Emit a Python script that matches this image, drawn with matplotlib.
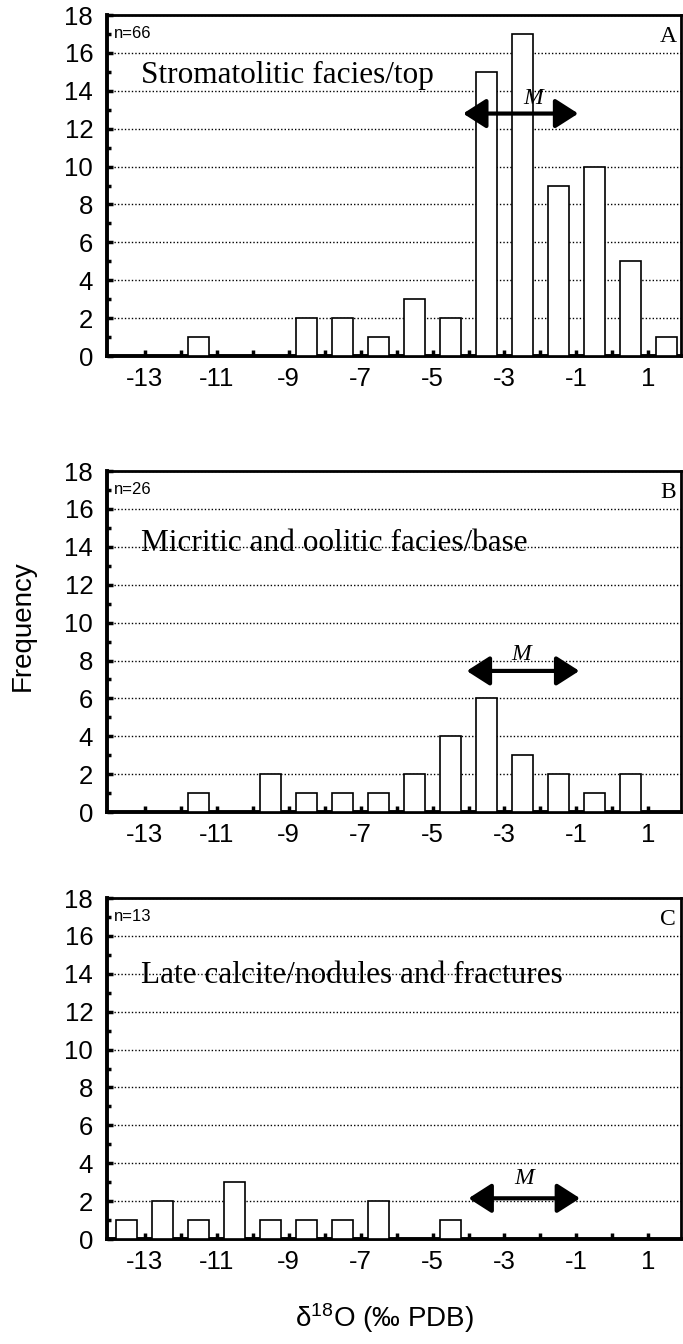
import numpy as np
import matplotlib
matplotlib.use("Agg")
import matplotlib.pyplot as plt
from matplotlib.ticker import MultipleLocator

plt.rcParams["font.family"] = ["Liberation Sans", "DejaVu Sans"]
plt.rcParams["mathtext.fontset"] = "custom"
plt.rcParams["mathtext.rm"] = "Liberation Sans"

# 1 per-mil bins, left edges -14 ... 1
bin_left = np.arange(-14, 2)
counts_a = [0, 0, 1, 0, 0, 2, 2, 1, 3, 2, 15, 17, 9, 10, 5, 1]
counts_b = [0, 0, 1, 0, 2, 1, 1, 1, 2, 4, 6, 3, 2, 1, 2, 0]
counts_c = [1, 2, 1, 3, 1, 1, 1, 2, 0, 1, 0, 0, 0, 0, 0, 0]

xtick_vals = [-13, -11, -9, -7, -5, -3, -1, 1]

panels = [
    dict(counts=counts_a, n="n=66", tag="A", title="Stromatolitic facies/top",
         title_y=14.8, arrow=(-4.15, -0.95, 12.8), m_pos=(-2.2, 13.6)),
    dict(counts=counts_b, n="n=26", tag="B", title="Micritic and oolitic facies/base",
         title_y=14.2, arrow=(-4.05, -0.92, 7.45), m_pos=(-2.55, 8.3)),
    dict(counts=counts_c, n="n=13", tag="C", title="Late calcite/nodules and fractures",
         title_y=13.9, arrow=(-4.0, -0.9, 2.15), m_pos=(-2.45, 3.2)),
]

fig = plt.figure(figsize=(6.83, 13.44), dpi=100)
bottoms = [0.7351, 0.3958, 0.0781]
serif = ["Liberation Serif", "DejaVu Serif"]

for p, y0 in zip(panels, bottoms):
    ax = fig.add_axes([0.1567, y0, 0.840, 0.2537])
    ax.bar(bin_left + 0.5, p["counts"], width=0.58, color="white",
           edgecolor="black", linewidth=1.2, zorder=3)
    ax.set_xlim(-14.05, 1.9)
    ax.set_ylim(0, 18)

    ax.yaxis.set_major_locator(MultipleLocator(2))
    ax.yaxis.set_minor_locator(MultipleLocator(1))
    ax.set_xticks(np.arange(-13, 2))
    ax.set_xticklabels([str(v) if v in xtick_vals else "" for v in range(-13, 2)])
    ax.tick_params(axis="y", which="major", direction="in", length=4, width=2.5,
                   labelsize=18.5, pad=10)
    ax.tick_params(axis="y", which="minor", direction="in", length=3, width=2.5)
    ax.tick_params(axis="x", direction="in", length=4, width=2.5,
                   labelsize=18.5, pad=8)

    ax.yaxis.grid(True, which="major", linestyle=(0, (1, 1.5)), color="black",
                  linewidth=1.0)
    ax.set_axisbelow(True)
    for side in ["top", "right"]:
        ax.spines[side].set_linewidth(2)
    ax.spines["left"].set_linewidth(2.8)
    ax.spines["bottom"].set_linewidth(2.8)

    ax.text(0.012, 17.05, p["n"], fontsize=12, ha="left", va="center",
            transform=ax.get_yaxis_transform())
    ax.text(1.55, 16.85, p["tag"], fontsize=17, family=serif, ha="center",
            va="center")
    ax.text(-13.1, p["title_y"], p["title"], fontsize=22.5, family=serif,
            ha="left", va="center", zorder=4)

    x1, x2, ya = p["arrow"]
    ax.annotate("", xy=(x1, ya), xytext=(x2, ya),
                arrowprops=dict(arrowstyle="<|-|>,head_length=0.5,head_width=0.32",
                                lw=3, color="black", shrinkA=0, shrinkB=0,
                                mutation_scale=28), zorder=5)
    ax.text(p["m_pos"][0], p["m_pos"][1], "M", fontsize=17, family=serif,
            style="italic", ha="center", va="center", zorder=5)

fig.text(0.033, 1 - 626 / 1344, "Frequency", rotation=90, fontsize=20,
         ha="center", va="center")
fig.text(384 / 683, 1 - 1318 / 1344, r"$\mathregular{\delta^{18}}$O (‰ PDB)",
         fontsize=20, ha="center", va="center")

fig.savefig("out.png", dpi=100)
